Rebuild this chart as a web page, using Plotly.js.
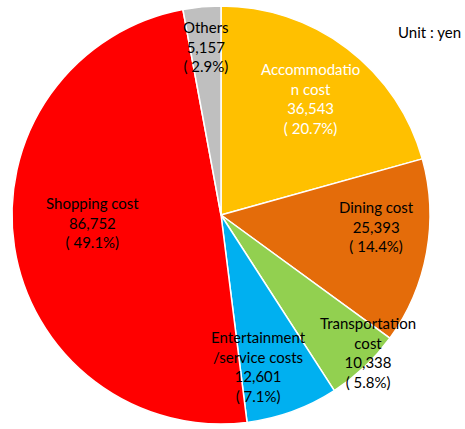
<!DOCTYPE html>
<html>
<head>
<meta charset="utf-8">
<script src="https://cdn.plot.ly/plotly-3.0.1.min.js"></script>
<style>html,body{margin:0;padding:0;background:#fff;}#chart{width:465px;height:429px;}</style>
</head>
<body>
<div id="chart"></div>
<script>
const categories = ["Accommodatio<br>n cost", "Dining cost", "Transportation<br>cost", "Entertainment<br>/service costs", "Shopping cost", "Others"];
const values = [36543, 25393, 10338, 12601, 86752, 5157];
const percents = ["20.7%", "14.4%", "5.8%", "7.1%", "49.1%", "2.9%"];
const unitLabel = "Unit : yen";

// styling / layout (kept separate from data)
const colors = ["#FFC000", "#E46C0A", "#92D050", "#00B0F0", "#FF0000", "#BFBFBF"];
const textColors = ["#FFFFFF", "#000000", "#000000", "#000000", "#000000", "#000000"];
const W = 465, H = 429;
const labelPixelPos = [[310, 98], [376, 226], [368, 352], [258, 366], [92, 222], [206, 47]];
const FONT = "Lato, 'Open Sans', sans-serif";

const trace = {
  type: "pie",
  labels: categories,
  values: values,
  sort: false,
  direction: "clockwise",
  rotation: 0,
  marker: {colors: colors, line: {color: "#FFFFFF", width: 1.5}},
  textinfo: "none",
  hoverinfo: "none",
  domain: {x: [10/W, 432/W], y: [1 - 424/H, 1 - 6/H]}
};

const fmt = v => v.toLocaleString("en-US");
const annotations = categories.map((c, i) => ({
  text: c + "<br>" + fmt(values[i]) + "<br>( " + percents[i] + ")",
  xref: "paper", yref: "paper",
  x: labelPixelPos[i][0] / W, y: 1 - labelPixelPos[i][1] / H,
  xanchor: "center", yanchor: "middle", align: "center", showarrow: false,
  font: {family: FONT, size: 15, color: textColors[i]}
}));
annotations.push({
  text: unitLabel, xref: "paper", yref: "paper", x: 463 / W, y: 1 - 32 / H,
  xanchor: "right", yanchor: "middle", showarrow: false,
  font: {family: FONT, size: 15, color: "#000000"}
});

const layout = {
  width: W, height: H,
  margin: {l: 0, r: 0, t: 0, b: 0},
  showlegend: false,
  paper_bgcolor: "#FFFFFF",
  annotations: annotations
};

Plotly.newPlot("chart", [trace], layout, {displayModeBar: false, staticPlot: true});
</script>
</body>
</html>
